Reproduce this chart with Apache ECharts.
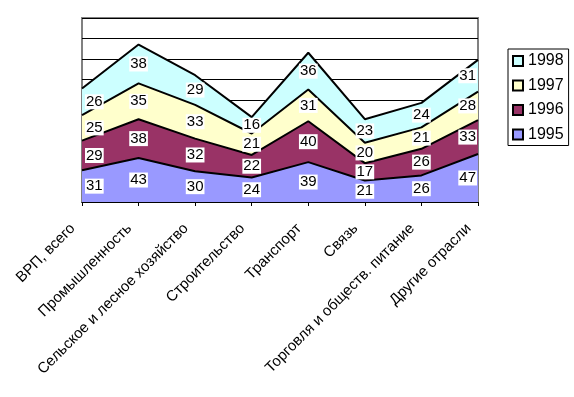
<!DOCTYPE html>
<html>
<head>
<meta charset="utf-8">
<script src="https://cdn.jsdelivr.net/npm/echarts@6/dist/echarts.min.js"></script>
<style>
  html, body { margin: 0; padding: 0; background: #fff; }
  #chart { width: 574px; height: 397px; }
</style>
</head>
<body>
<div id="chart"></div>
<script>
const categories = [
  "ВРП, всего",
  "Промышленность",
  "Сельское и лесное хозяйство",
  "Строительство",
  "Транспорт",
  "Связь",
  "Торговля и обществ. питание",
  "Другие отрасли",
];
const years = ["1995", "1996", "1997", "1998"];
const v1995 = [31, 43, 30, 24, 39, 21, 26, 47];
const v1996 = [29, 38, 32, 22, 40, 17, 26, 33];
const v1997 = [25, 35, 33, 21, 31, 20, 21, 28];
const v1998 = [26, 38, 29, 16, 36, 23, 24, 31];
const colors = ["#9999ff", "#993366", "#ffffcc", "#ccffff"];

const values = [v1995, v1996, v1997, v1998];
const font = 'Arial, "Liberation Sans", sans-serif';
const last = categories.length - 1;

// stacked areas
const areaSeries = values.map((data, i) => ({
  name: years[i],
  type: "line",
  stack: "total",
  data: data,
  color: colors[i],
  symbol: "none",
  lineStyle: { color: "#000", width: 2 },
  areaStyle: { color: colors[i], opacity: 1 },
  z: 2,
}));

// value labels, centred inside each band
const labelSeries = values.map((data, i) => {
  const pts = data.map((v, j) => {
    let below = 0;
    for (let k = 0; k < i; k++) below += values[k][j];
    let label = {};
    if (j === 0) label = { align: "left", offset: [3, 0] };
    if (j === last) label = { align: "right", offset: [-1, 0] };
    return { value: [j, below + v / 2], raw: v, label: label };
  });
  return {
    name: "lbl" + years[i],
    type: "scatter",
    data: pts,
    symbolSize: 0,
    silent: true,
    z: 5,
    itemStyle: { opacity: 1 },
    emphasis: { disabled: true },
    label: {
      show: true,
      position: "inside",
      color: "#000",
      opacity: 1,
      fontFamily: font,
      fontSize: 15,
      backgroundColor: "#fff",
      padding: [0, 1, 0, 1],
      formatter: (p) => String(p.data.raw),
    },
  };
});

const chart = echarts.init(document.getElementById("chart"), null, { renderer: "canvas" });
chart.setOption({
  animation: false,
  backgroundColor: "#fff",
  grid: {
    left: 82, top: 18, right: 96, bottom: 195,
    show: true, borderColor: "#808080", borderWidth: 2, backgroundColor: "#fff",
  },
  legend: {
    data: ["1998", "1997", "1996", "1995"],
    orient: "vertical",
    left: 508, top: 49,
    padding: [4, 5, 3, 4],
    itemGap: 8.5,
    itemWidth: 10, itemHeight: 10,
    icon: "rect",
    borderColor: "#000", borderWidth: 1,
    itemStyle: { borderColor: "#000", borderWidth: 2 },
    lineStyle: { opacity: 0 },
    textStyle: { fontFamily: font, fontSize: 16, color: "#000", lineHeight: 16 },
  },
  xAxis: {
    type: "category",
    data: categories,
    boundaryGap: false,
    axisLine: { lineStyle: { color: "#000", width: 1 } },
    axisTick: { show: true, length: 4, lineStyle: { color: "#000" } },
    axisLabel: {
      interval: 0, rotate: 45, margin: 15,
      padding: [0, 13, 0, 0],
      color: "#000", fontFamily: font, fontSize: 15,
    },
    z: 6,
  },
  yAxis: {
    type: "value",
    min: 0, max: 180, interval: 20,
    axisLabel: { show: false },
    axisLine: { show: false },
    axisTick: { show: false },
    splitLine: { lineStyle: { color: "#000", width: 1 } },
  },
  series: areaSeries.concat(labelSeries),
});
</script>
</body>
</html>
